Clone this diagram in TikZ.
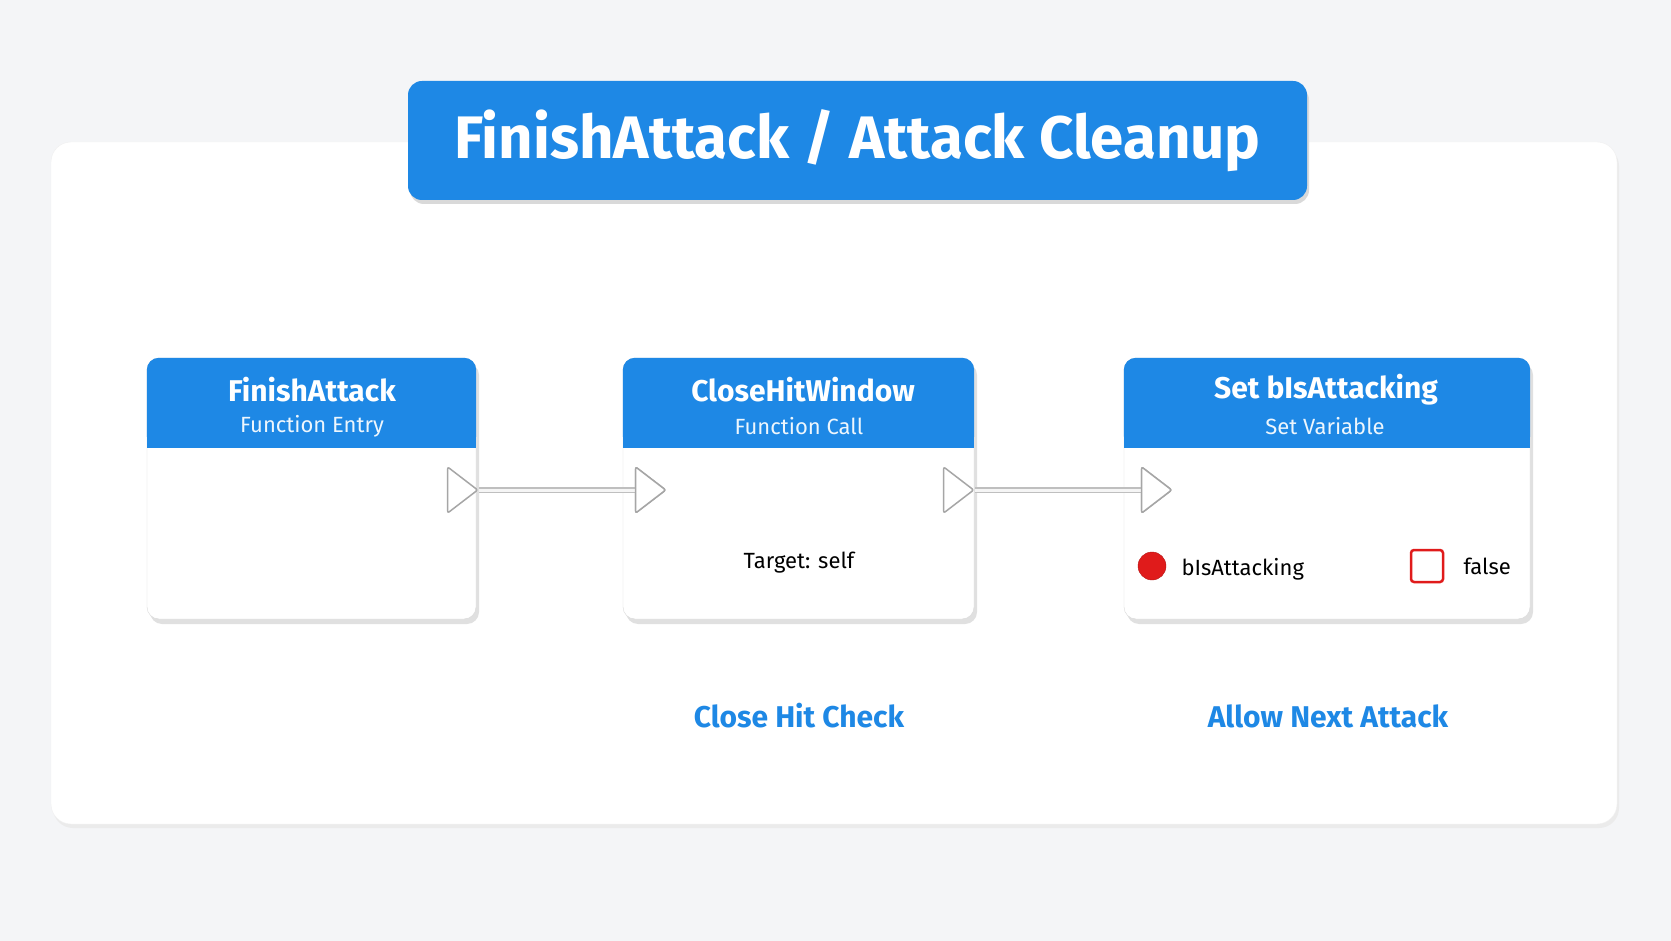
\documentclass[tikz,border=0pt]{standalone}
\usepackage{fontspec}
\setmainfont{Fira Sans}
\usetikzlibrary{positioning,shapes.geometric}

\definecolor{hdrblue}{HTML}{1E88E5}
\definecolor{pinred}{HTML}{E01B1B}
\definecolor{bggray}{HTML}{F4F5F7}

\tikzset{
	card/.style={draw=black!15, fill=white, rounded corners=12pt,
		minimum width=#1, minimum height=261pt, inner sep=0pt},
	shade/.style={fill=black!12, rounded corners=12pt},
	hdrtitle/.style={text=white, font=\fontsize{30}{32}\selectfont\bfseries},
	hdrsub/.style={text=white!92!hdrblue, font=\fontsize{22}{24}\selectfont},
	pin/.style={isosceles triangle, isosceles triangle apex angle=75,
		draw=black!35, fill=white, line width=1.5pt, minimum height=30pt,
		inner sep=0pt, rounded corners=2pt},
	wire/.style={line width=6pt, draw=black!25},
	wirecore/.style={line width=3pt, draw=white!96!black},
	note/.style={font=\fontsize{30}{32}\selectfont\bfseries, text=hdrblue},
	plain/.style={font=\fontsize{22}{24}\selectfont}
}

\begin{document}
\begin{tikzpicture}[x=1pt, y=1pt]
\useasboundingbox[fill=bggray] (0,0) rectangle (1671,-941);

% Panel
\fill[black!8, rounded corners=20pt] (53,-146) rectangle (1619,-828);
\node [draw=black!6, fill=white, rounded corners=20pt,
	minimum width=1566pt, minimum height=682pt, inner sep=0pt
] (panel) at (834,-483) {};

% Title
\fill[black!15, rounded corners=14pt] (410,-86) rectangle (1309,-204);
\node [fill=hdrblue, rounded corners=14pt,
	minimum width=899pt, minimum height=119pt, inner sep=0pt,
	text=white, font=\fontsize{60}{64}\selectfont\bfseries
] (title) at (857.5,-140.5) {FinishAttack / Attack Cleanup};

% FinishAttack
\fill[shade] (150,-363) rectangle (479,-624);
\node [card=329pt] (finish) at (311.5,-488.5) {};
\fill[hdrblue, rounded corners=12pt] (finish.north west) rectangle ([yshift=-90pt]finish.north east);
\fill[hdrblue] ([yshift=-60pt]finish.north west) rectangle ([yshift=-90pt]finish.north east);
\node [hdrtitle] (finish_t) at (312,-390) {FinishAttack};
\node [hdrsub] (finish_s) at (312,-426) {Function Entry};

% CloseHitWindow
\fill[shade] (626,-363) rectangle (977,-624);
\node [card=351pt] (close) at (798.5,-488.5) {};
\fill[hdrblue, rounded corners=12pt] (close.north west) rectangle ([yshift=-90pt]close.north east);
\fill[hdrblue] ([yshift=-60pt]close.north west) rectangle ([yshift=-90pt]close.north east);
\node [hdrtitle] (close_t) at (803,-390) {CloseHitWindow};
\node [hdrsub] (close_s) at (799,-426) {Function Call};
\node [plain] (target) at (799,-563) {Target: self};

% Set bIsAttacking
\fill[shade] (1127,-363) rectangle (1533,-624);
\node [card=406pt] (setvar) at (1327,-488.5) {};
\fill[hdrblue, rounded corners=12pt] (setvar.north west) rectangle ([yshift=-90pt]setvar.north east);
\fill[hdrblue] ([yshift=-60pt]setvar.north west) rectangle ([yshift=-90pt]setvar.north east);
\node [hdrtitle] (setvar_t) at (1326,-390) {Set bIsAttacking};
\node [hdrsub] (setvar_s) at (1325,-426) {Set Variable};
\node [circle, fill=pinred, draw=pinred!80!black, minimum size=28pt, inner sep=0pt] (dot) at (1152,-566) {};
\node [plain, anchor=west] (varname) at (1178,-569) {bIsAttacking};
\node [draw=pinred, line width=2.5pt, rounded corners=3pt, minimum size=32pt, inner sep=0pt] (check) at (1427,-566) {};
\node [plain, anchor=west] (falsev) at (1460,-566) {false};

% Exec pins
\node [pin] (finish_out) at (459,-490) {};
\node [pin] (close_in) at (647,-490) {};
\node [pin] (close_out) at (955,-490) {};
\node [pin] (setvar_in) at (1153,-490) {};

% Wires
\draw[wire] (finish_out.apex) -- (close_in.west);
\draw[wirecore] (finish_out.apex) -- (close_in.west);
\draw[wire] (close_out.apex) -- (setvar_in.west);
\draw[wirecore] (close_out.apex) -- (setvar_in.west);
\node [pin] at (close_in) {};
\node [pin] at (setvar_in) {};

% Notes
\node [note] (note_close) at (799,-716) {Close Hit Check};
\node [note] (note_allow) at (1328,-716) {Allow Next Attack};

\end{tikzpicture}
\end{document}
